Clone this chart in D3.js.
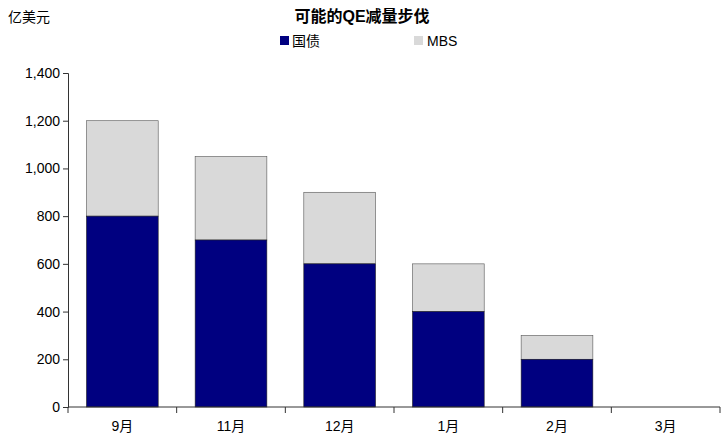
<!DOCTYPE html>
<html><head><meta charset="utf-8">
<script src="https://cdn.jsdelivr.net/npm/d3@7"></script>
<style>body{margin:0;background:#fff}text{font-family:"Liberation Sans","Noto Sans CJK SC",sans-serif}</style>
</head><body><svg id="c" width="724" height="445"></svg>
<script>
const categories=["9月","11月","12月","1月","2月","3月"];
const treasury=[800,700,600,400,200,0];
const mbs=[400,350,300,200,100,0];
const yTicks=[0,200,400,600,800,1000,1200,1400];
const svg=d3.select("#c");
const L=68,R=720,T=73,B=407;
const x=d3.scaleBand().domain(categories).range([L,R]).paddingInner(0.34).paddingOuter(0.17);
const y=d3.scaleLinear().domain([0,1400]).range([B,T]);
const data=categories.map((c,i)=>({c,t:treasury[i],m:mbs[i]}));
const g=svg.append("g");
g.selectAll(".m").data(data).join("rect").attr("x",d=>x(d.c)).attr("width",x.bandwidth())
 .attr("y",d=>y(d.t+d.m)).attr("height",d=>y(d.t)-y(d.t+d.m)).attr("fill","#d9d9d9").attr("stroke",d=>d.m?"#555":"none").attr("stroke-width",0.6);
g.selectAll(".t").data(data).join("rect").attr("x",d=>x(d.c)).attr("width",x.bandwidth())
 .attr("y",d=>y(d.t)).attr("height",d=>B-y(d.t)).attr("fill","#000080").attr("stroke",d=>d.t?"#222":"none").attr("stroke-width",0.6);
const ya=svg.append("g").attr("transform",`translate(${L},0)`).call(d3.axisLeft(y).tickValues(yTicks).tickFormat(d3.format(",")).tickSize(5));
ya.selectAll("text").attr("font-size",14).attr("fill","#000");
ya.selectAll("line,path").attr("stroke","#333");
const xa=svg.append("g").attr("transform",`translate(0,${B})`);
xa.append("line").attr("x1",L).attr("x2",R).attr("stroke","#333");
const step=x.step();
categories.forEach((c,i)=>{
 const cx=x(c)+x.bandwidth()/2;
 xa.append("line").attr("x1",cx+step/2).attr("x2",cx+step/2).attr("y1",0).attr("y2",6).attr("stroke","#333");
 xa.append("text").attr("x",cx).attr("y",24).attr("text-anchor","middle").attr("font-size",14).text(c);
});
xa.append("line").attr("x1",L).attr("x2",L).attr("y1",0).attr("y2",6).attr("stroke","#333");
svg.append("text").attr("x",362).attr("y",22).attr("text-anchor","middle").attr("font-size",16).attr("font-weight","bold").text("可能的QE减量步伐");
svg.append("text").attr("x",8).attr("y",22).attr("font-size",14).text("亿美元");
svg.append("rect").attr("x",280).attr("y",36).attr("width",9).attr("height",9).attr("fill","#000080");
svg.append("text").attr("x",292).attr("y",46).attr("font-size",14).text("国债");
svg.append("rect").attr("x",414).attr("y",36).attr("width",9).attr("height",9).attr("fill","#d9d9d9");
svg.append("text").attr("x",427).attr("y",46).attr("font-size",14).text("MBS");
</script></body></html>
